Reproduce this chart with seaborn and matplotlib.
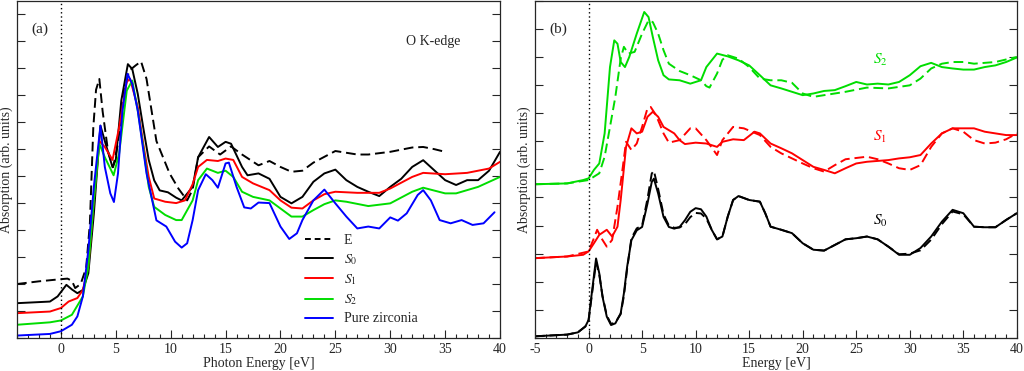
import matplotlib
matplotlib.use("Agg")
import matplotlib.pyplot as plt
import seaborn as sns
import numpy as np
from matplotlib.ticker import MultipleLocator

# ---------------- panel (a): O K-edge ----------------
xa_E = [-4, -2, 0, 0.6, 1, 1.3, 1.8, 2.3, 2.64, 2.95, 3.2, 3.5, 3.8, 4.3, 4.75, 5.2, 5.7, 6.2, 6.8, 7.3, 7.8,
        8.7, 9.9, 10.7, 11.5, 12, 12.5, 13.5, 14.5, 15.5, 16.5, 18, 19, 20, 21, 22, 23, 25, 27, 28,
        30, 32, 33, 34, 35]
ya_E = [2.0, 2.1, 2.18, 2.2, 2.12, 1.85, 2.0, 2.6, 4.25, 7.8, 9.2, 9.6, 8.4, 6.9, 6.33, 7.2, 9.0, 9.9, 10.1, 10.25, 9.6,
        7.3, 6.1, 5.54, 5.1, 5.5, 6.7, 7.1, 6.8, 7.1, 6.8, 6.4, 6.56, 6.34, 6.16, 6.2, 6.5, 6.93, 6.8, 6.8,
        6.9, 7.06, 7.08, 7.0, 6.9]

xa_S0 = [-4, -1, -0.3, 0.5, 1, 1.5, 2, 2.5, 3, 3.6, 4, 4.7, 5, 5.5, 6.1, 6.5, 7, 7.5, 8, 8.5, 9, 9.75,
         10.5, 11, 12, 12.5, 13.5, 14.3, 15, 15.5, 16.5, 17, 18, 19, 20, 21, 22, 23, 24, 25, 26, 27,
         28, 29, 30, 31, 32, 33, 34, 35, 36, 37, 38, 39, 40]
ya_S0 = [1.29, 1.35, 1.54, 1.97, 1.8, 1.66, 1.78, 2.4, 4.6, 7.87, 7.3, 6.33, 6.6, 8.8, 10.15, 9.97, 9.05, 7.8, 6.6, 5.84, 5.47, 5.4,
         5.2, 5.1, 5.6, 6.7, 7.45, 7.08, 7.27, 7.2, 6.34, 6.03, 6.1, 5.9, 5.23, 4.99, 5.23, 5.79, 6.1, 6.24, 5.85, 5.6,
         5.42, 5.26, 5.6, 5.9, 6.34, 6.59, 6.22, 5.85, 5.67, 5.85, 5.85, 6.2, 6.9]

xa_S1 = [-4, -1, 0, 0.7, 1.5, 2, 2.5, 3, 3.5, 4, 4.7, 5.3, 6, 6.3, 7, 7.5, 8, 8.5, 9.5, 10.5, 11.3,
         12, 12.5, 13.3, 14.3, 15, 15.7, 16.5, 17.5, 19, 20, 21, 22, 23, 24, 25, 27, 29, 30, 32, 33,
         35, 37, 39, 40]
ya_S1 = [0.92, 0.98, 1.11, 1.35, 1.48, 1.78, 2.65, 5.1, 7.3, 7.08, 6.6, 7.8, 9.5, 9.6, 8.56, 7.2, 5.97, 5.17, 5.05, 5.0, 5.1,
         5.7, 6.34, 6.6, 6.56, 6.65, 6.6, 5.97, 5.73, 5.48, 5.1, 4.83, 4.8, 5.1, 5.33, 5.42, 5.38, 5.38, 5.54, 5.97, 6.12,
         6.07, 6.12, 6.28, 6.53]

xa_S2 = [-4, -1, 0, 1, 2, 2.5, 3, 3.5, 4, 4.8, 5.3, 6, 6.5, 7, 7.5, 8, 8.5, 9.5, 10.5, 11, 12, 12.5,
         13.3, 14.3, 15, 15.7, 16.5, 17.5, 19, 20, 21, 22, 23, 24, 25, 26, 28, 30, 32, 33, 35, 36,
         38, 40]
ya_S2 = [0.49, 0.58, 0.65, 0.86, 1.54, 2.65, 5.1, 7.2, 6.7, 6.03, 6.83, 9.17, 9.54, 8.43, 7.08, 5.6, 4.86, 4.56, 4.37, 4.37, 5.1, 5.85,
         6.28, 6.12, 6.2, 5.97, 5.42, 5.23, 5.1, 4.8, 4.5, 4.5, 4.74, 4.96, 5.1, 5.05, 4.89, 4.99, 5.42, 5.57, 5.36, 5.36,
         5.6, 5.97]

xa_ZrO2 = [-4, -1, 0, 1, 1.5, 2, 2.5, 3, 3.6, 4, 4.5, 4.83, 5.2, 5.6, 6.07, 6.5, 7, 7.8, 8.7, 9.6, 10.4,
           11, 11.5, 12, 12.5, 13.2, 13.8, 14.3, 15, 15.3, 16, 16.7, 17.3, 18, 19, 20, 20.8, 21.5,
           22, 23, 24, 25, 26, 27, 28, 29, 30, 30.7, 31.5, 32.5, 33, 33.7, 34.5, 35.5, 36.5, 37.5, 38.5,
           39.5]
ya_ZrO2 = [0.09, 0.15, 0.25, 0.49, 0.8, 1.54, 3.26, 5.6, 7.87, 6.34, 5.36, 5.04, 6.1, 8.4, 9.79, 9.42, 8.43, 6.1, 4.36, 4.13, 3.57,
           3.35, 3.51, 4.37, 5.48, 6.07, 5.85, 5.57, 6.47, 6.5, 5.6, 4.84, 4.8, 5.02, 5.0, 4.13, 3.67, 3.88,
           4.37, 5.1, 5.5, 4.99, 4.5, 4.06, 4.13, 4.06, 4.47, 4.35, 4.62, 5.3, 5.48, 5.1, 4.37, 4.25, 4.37, 4.19, 4.25,
           4.66]

# ---------------- panel (b): solid vs dashed ----------------
xb_S0 = [-5, -2, -1, -0.3, 0, 0.3, 0.7, 1, 1.3, 1.7, 2.1, 2.5, 3, 3.3, 3.6, 4, 4.5, 5, 5.5, 5.9, 6.1, 6.5,
         7, 7.5, 8, 8.5, 9, 9.5, 10, 10.5, 11, 11.5, 12, 12.5, 13, 13.5, 14, 15, 16, 16.5, 17, 18, 19,
         20, 21, 22, 23, 24, 25, 26, 27, 28, 29, 30, 31, 32, 33, 34, 35, 36, 37, 38, 39, 40]
yb_S0 = [0.06, 0.12, 0.2, 0.41, 0.64, 1.59, 2.83, 2.3, 1.47, 0.76, 0.46, 0.52, 0.88, 1.59, 2.53, 3.48, 3.83, 3.95, 4.78, 5.55, 5.67, 5.14,
         4.31, 3.95, 3.89, 3.95, 4.19, 4.49, 4.62, 4.58, 4.32, 3.85, 3.51, 3.61, 4.32, 4.91, 5.05, 4.91, 4.85, 4.44, 3.96, 3.85, 3.73,
         3.37, 3.14, 3.11, 3.31, 3.51, 3.55, 3.61, 3.51, 3.25, 2.96, 2.96, 3.2, 3.61, 4.14, 4.56, 4.44, 3.96, 3.94, 3.94, 4.2, 4.44]
yb_S0_dash = [0.06, 0.12, 0.2, 0.41, 0.62, 1.5, 2.7, 2.25, 1.5, 0.8, 0.5, 0.55, 0.85, 1.5, 2.45, 3.55, 3.9, 4.0, 4.95, 5.85, 5.95, 5.3,
              4.4, 4.0, 3.92, 3.93, 4.05, 4.3, 4.45, 4.43, 4.25, 3.85, 3.51, 3.61, 4.32, 4.91, 5.05, 4.91, 4.85, 4.44, 3.96, 3.85, 3.73,
              3.37, 3.14, 3.11, 3.31, 3.51, 3.55, 3.61, 3.51, 3.25, 2.98, 3.0, 3.12, 3.5, 4.05, 4.5, 4.4, 3.96, 3.94, 3.94, 4.2, 4.44]

xb_S1 = [-5, -2, -0.5, 0, 0.5, 1, 1.7, 2.2, 2.7, 3, 3.5, 4, 4.5, 5, 5.5, 6, 6.5, 7, 8, 8.5, 9, 10,
         11, 12, 12.5, 13.5, 14.5, 15.5, 16, 17, 18, 19, 20, 21, 22, 23, 24, 25, 26, 27, 28, 29, 30,
         31, 32, 33, 34, 35, 36, 37, 38, 39, 40]
yb_S1 = [2.84, 2.9, 2.96, 3.08, 3.37, 3.67, 3.85, 3.61, 3.96, 4.91, 6.8, 7.46, 7.28, 7.34, 7.87, 8.05, 7.87, 7.51, 7.28, 7.04, 6.9, 6.95,
         6.92, 6.8, 6.98, 7.07, 7.04, 7.34, 7.28, 6.92, 6.75, 6.57, 6.33, 6.09, 5.98, 5.86, 6.04, 6.21, 6.27, 6.3, 6.33, 6.39, 6.43,
         6.51, 6.92, 7.28, 7.46, 7.46, 7.46, 7.34, 7.28, 7.22, 7.22]
xb_S1_dash = [-5, -2, 0, 0.5, 0.8, 1.2, 1.7, 2.2, 2.7, 3.2, 3.5, 4, 4.5, 5, 5.5, 5.8, 6.3, 7, 7.5, 8.5, 9.5, 10,
              11, 12, 12.5, 13.5, 14.5, 16, 17, 18, 20, 21, 22, 23, 24, 26, 27, 28, 29, 30, 31, 32, 33,
              34, 35, 36, 37, 38, 39, 40]
yb_S1_dash = [2.84, 2.9, 3.08, 3.55, 3.85, 3.55, 3.25, 3.49, 4.67, 6.09, 6.98, 6.69, 6.92, 7.51, 8.17, 8.22, 7.93, 7.28, 6.95, 7.04, 7.46, 7.46,
              7.04, 6.51, 7.04, 7.51, 7.46, 7.22, 6.8, 6.57, 6.21, 6.04, 5.92, 6.15, 6.36, 6.45, 6.36, 6.21, 6.04, 5.98, 6.15, 6.8, 7.28,
              7.46, 7.34, 7.04, 6.92, 6.95, 7.07, 7.28]

xb_S2 = [-5, -2, -0.5, 0, 0.5, 1, 1.5, 2, 2.4, 2.7, 3, 3.4, 3.8, 4.5, 5.2, 5.6, 6, 6.5, 7, 7.5, 8.5, 9.5,
         10.5, 11, 12, 13, 14, 15, 16, 17, 18, 19, 20, 21, 22, 23, 24, 25, 26, 27, 28, 29, 30, 31,
         32, 33, 34, 35, 36, 37, 38, 39, 40]
yb_S2 = [5.47, 5.5, 5.62, 5.68, 5.98, 6.21, 7.28, 9.64, 10.59, 10.47, 9.82, 9.64, 10.0, 10.83, 11.6, 11.42, 10.71, 9.88, 9.35, 9.2, 9.17, 9.05,
         9.17, 9.64, 10.12, 10.02, 9.88, 9.7, 9.35, 8.99, 8.88, 8.76, 8.64, 8.7, 8.79, 8.82, 8.96, 9.11, 9.02, 9.05, 9.02, 9.11, 9.35, 9.67,
         9.79, 9.64, 9.59, 9.55, 9.55, 9.64, 9.7, 9.82, 9.98]
xb_S2_dash = [-5, -2, 0, 0.5, 1, 1.5, 2, 2.5, 3, 3.3, 3.7, 4.3, 5, 5.6, 6, 6.5, 7, 7.5, 8.5, 9.5, 10.5, 11,
              11.3, 12, 12.5, 13, 14, 15, 16, 17, 18, 19, 20, 21, 22, 24, 26, 28, 30, 31, 32, 33, 34,
              35, 36, 38, 40]
yb_S2_dash = [5.47, 5.5, 5.62, 5.74, 5.86, 6.45, 7.51, 8.58, 9.94, 10.36, 10.12, 10.18, 10.83, 11.3, 11.24, 10.83, 10.24, 9.76, 9.5, 9.35, 9.17, 8.96,
              8.91, 9.41, 9.9, 10.06, 9.94, 9.64, 9.23, 9.17, 9.17, 9.08, 8.7, 8.58, 8.64, 8.76, 8.91, 8.88, 8.99, 9.23, 9.59, 9.76, 9.82,
              9.82, 9.76, 9.82, 10.0]

sns.set_style("ticks")
plt.rcParams['font.family'] = ['Liberation Serif', 'DejaVu Serif']
plt.rcParams['mathtext.fontset'] = 'stix'
plt.rcParams['axes.unicode_minus'] = False

BLACK, RED, GREEN, BLUE = "#000000", "#ff0000", "#00dd00", "#0000ff"
lw = 1.4

fig = plt.figure(figsize=(10.24, 3.71), dpi=100)
ax1 = fig.add_axes([0.0166, 0.089, 0.4717, 0.909])
ax2 = fig.add_axes([0.5225, 0.089, 0.4705, 0.909])

sns.lineplot(x=xa_E, y=ya_E, ax=ax1, color=BLACK, lw=lw, label="E", sort=False)
ax1.lines[-1].set_dashes([5, 2.5])
sns.lineplot(x=xa_S0, y=ya_S0, ax=ax1, color=BLACK, lw=lw, label="$S_0$", sort=False)
sns.lineplot(x=xa_S1, y=ya_S1, ax=ax1, color=RED, lw=lw, label="$S_1$", sort=False)
sns.lineplot(x=xa_S2, y=ya_S2, ax=ax1, color=GREEN, lw=lw, label="$S_2$", sort=False)
sns.lineplot(x=xa_ZrO2, y=ya_ZrO2, ax=ax1, color=BLUE, lw=lw, label="Pure zirconia", sort=False)

for xs, ys, c in [(xb_S0, yb_S0_dash, BLACK), (xb_S1_dash, yb_S1_dash, RED), (xb_S2_dash, yb_S2_dash, GREEN)]:
    sns.lineplot(x=xs, y=ys, ax=ax2, color=c, lw=lw, sort=False)
    ax2.lines[-1].set_dashes([5, 2.5])
for xs, ys, c in [(xb_S0, yb_S0, BLACK), (xb_S1, yb_S1, RED), (xb_S2, yb_S2, GREEN)]:
    sns.lineplot(x=xs, y=ys, ax=ax2, color=c, lw=lw, sort=False)

leg = ax1.legend(loc="lower left", bbox_to_anchor=(0.57, 0.0), frameon=False, fontsize=10,
                 handlelength=2.0, labelspacing=0.38, borderaxespad=0.5)
leg.get_lines()[0].set_dashes([3, 2])

ax1.set_xlim(-4, 40)
ax1.set_ylim(0, 12.5)
ax2.set_xlim(-5, 40)
ax2.set_ylim(0, 12)

for ax in (ax1, ax2):
    ax.axvline(0, color="black", lw=1.0, ls=(0, (1, 2)))
    ax.xaxis.set_major_locator(MultipleLocator(5))
    ax.xaxis.set_minor_locator(MultipleLocator(1))
    ax.yaxis.set_major_locator(MultipleLocator(1))
    ax.tick_params(axis="both", which="both", direction="in", right=True, labelsize=10, width=0.8)
    ax.tick_params(axis="x", which="major", length=6)
    ax.tick_params(axis="x", which="minor", length=3)
    ax.tick_params(axis="y", which="major", length=6, labelleft=False)
    for s in ax.spines.values():
        s.set_linewidth(0.9)
        s.set_visible(True)
    ax.set_ylabel("Absorption (arb. units)", fontsize=10, labelpad=3)

ax1.set_xlabel("Photon Energy [eV]", fontsize=10, labelpad=1)
ax2.set_xlabel("Energy [eV]", fontsize=10, labelpad=1)

ax1.text(0.03, 0.905, "(a)", transform=ax1.transAxes, fontsize=11)
ax1.text(0.805, 0.87, "O K-edge", transform=ax1.transAxes, fontsize=10)
ax2.text(0.03, 0.905, "(b)", transform=ax2.transAxes, fontsize=11)
ax2.text(26.6, 9.9, "$S_2$", color=GREEN, fontsize=11, va="center")
ax2.text(26.6, 7.15, "$S_1$", color=RED, fontsize=11, va="center")
ax2.text(26.6, 4.15, "$S_0$", color=BLACK, fontsize=11, va="center")

fig.savefig("out.png", dpi=100)
